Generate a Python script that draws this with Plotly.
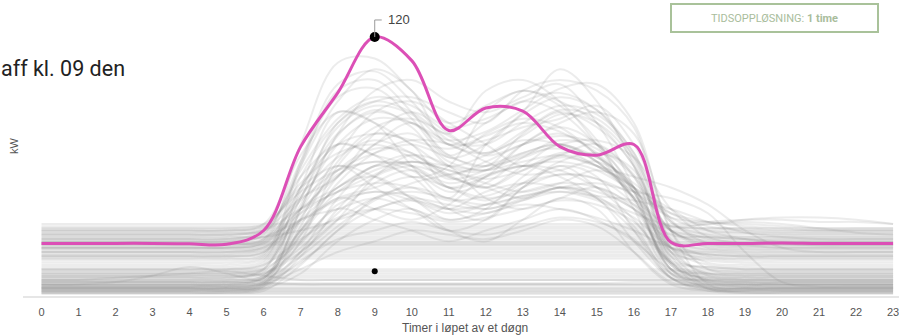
import plotly.graph_objects as go

hours = list(range(24))
tick_labels = [str(h) for h in hours]

# highlighted day (kW per hour)
highlight_kw = [24, 24, 24, 24, 23.8, 23.6, 30, 69, 94, 120, 109, 76.5,
                87, 85.5, 69, 65, 70, 24.5, 24, 24, 24.2, 24, 24, 24]
peak_hour = 9
peak_kw = 120
second_marker_kw = 11

# other days (kW per hour), drawn faint in the background
flat_days = [
    [0.5, 0.5, 0.5, 0.5, 0.5, 0.5, 0.5, 0.5, 0.5, 0.5, 0.5, 0.5, 0.5, 0.5, 0.5, 0.5, 0.5, 0.5, 0.5, 0.5, 0.5, 0.5, 0.5, 0.5],
    [1, 1, 1, 1, 1, 1, 1, 1, 1, 1, 1, 1, 1, 1, 1, 1, 1, 1, 1, 1, 1, 1, 1, 1],
    [1.5, 1.5, 1.5, 1.5, 1.5, 1.5, 1.5, 1.5, 1.5, 1.5, 1.5, 1.5, 1.5, 1.5, 1.5, 1.5, 1.5, 1.5, 1.5, 1.5, 1.5, 1.5, 1.5, 1.5],
    [2, 2, 2, 2, 2, 2, 2, 2, 2, 2, 2, 2, 2, 2, 2, 2, 2, 2, 2, 2, 2, 2, 2, 2],
    [2.5, 2.5, 2.5, 2.5, 2.5, 2.5, 2.5, 2.5, 2.5, 2.5, 2.5, 2.5, 2.5, 2.5, 2.5, 2.5, 2.5, 2.5, 2.5, 2.5, 2.5, 2.5, 2.5, 2.5],
    [3, 3, 3, 3, 3, 3, 3, 3, 3, 3, 3, 3, 3, 3, 3, 3, 3, 3, 3, 3, 3, 3, 3, 3],
    [3.5, 3.5, 3.5, 3.5, 3.5, 3.5, 3.5, 3.5, 3.5, 3.5, 3.5, 3.5, 3.5, 3.5, 3.5, 3.5, 3.5, 3.5, 3.5, 3.5, 3.5, 3.5, 3.5, 3.5],
    [4.5, 4.5, 4.5, 4.5, 4.5, 4.5, 4.5, 4.5, 4.5, 4.5, 4.5, 4.5, 4.5, 4.5, 4.5, 4.5, 4.5, 4.5, 4.5, 4.5, 4.5, 4.5, 4.5, 4.5],
    [5, 5, 5, 5, 5, 5, 5, 5, 5, 5, 5, 5, 5, 5, 5, 5, 5, 5, 5, 5, 5, 5, 5, 5],
    [6, 6, 6, 6, 6, 6, 5.5, 5.5, 5.5, 5.5, 5.5, 5.5, 5.5, 5.5, 5.5, 5.5, 6, 6, 6, 6, 6, 6, 6, 6],
    [7, 7, 7, 7, 7, 7, 7, 7, 7, 7, 7, 7, 7, 7, 7, 7, 7, 7, 7, 7, 7, 7, 7, 7],
    [8, 8, 8, 8, 8, 8, 8, 8, 8, 8, 8, 8, 8, 8, 8, 8, 8, 8, 8, 8, 8, 8, 8, 8],
    [9, 9, 9, 9, 9, 9, 9, 9, 9, 9, 9, 9, 9, 9, 9, 9, 9, 9, 9, 9, 9, 9, 9, 9],
    [10, 10, 10, 10, 10, 10, 10, 10, 10, 10, 10, 10, 10, 10, 10, 10, 10, 10, 10, 10, 10, 10, 10, 10],
    [11, 11, 11, 11, 11, 11, 11, 11, 11, 11, 11, 11, 11, 11, 11, 11, 11, 11, 11, 11, 11, 11, 11, 11],
    [12, 12, 12, 12, 12, 12, 12, 12, 12, 12, 12, 12, 12, 12, 12, 12, 12, 12, 12, 12, 12, 12, 12, 12],
    [5, 5, 6, 9, 13, 10, 6, 5, 5, 5, 5, 5, 5, 5, 5, 5, 5, 5, 5, 5, 5, 5, 5, 5],
    [7, 7, 8, 9, 10, 11, 9, 7, 7, 7, 7, 7, 7, 7, 7, 7, 7, 7, 7, 7, 7, 7, 7, 7],
    [17, 17, 17, 17, 17, 17, 17, 17, 17, 17, 17, 17, 17, 17, 17, 17, 17, 17, 17, 17, 17, 17, 17, 17],
    [18, 18, 18, 18, 18, 18, 18, 18, 18, 18, 18, 18, 18, 18, 18, 18, 18, 18, 18, 18, 18, 18, 18, 18],
    [19, 19, 19, 19, 19, 19, 19, 19, 19, 19, 19, 19, 19, 19, 19, 19, 19, 19, 19, 19, 19, 19, 19, 19],
    [20, 20, 20, 20, 20, 20, 20, 20, 20, 20, 20, 20, 20, 20, 20, 20, 20, 20, 20, 20, 20, 20, 20, 20],
    [21, 21, 21, 21, 21, 21, 21, 21, 21, 21, 21, 21, 21, 21, 21, 21, 21, 21, 21, 21, 21, 21, 21, 21],
    [22, 22, 22, 22, 22, 22, 22, 22, 22, 22, 22, 22, 22, 22, 22, 22, 22, 22, 22, 22, 22, 22, 22, 22],
    [23, 23, 23, 23, 23, 23, 23, 23, 23, 23, 23, 23, 23, 23, 23, 23, 23, 23, 23, 23, 23, 23, 23, 23],
    [23.5, 23.5, 23.5, 23.5, 23.5, 23.5, 23.5, 23.5, 23.5, 23.5, 23.5, 23.5, 23.5, 23.5, 23.5, 23.5, 23.5, 23.5, 23.5, 23.5, 23.5, 23.5, 23.5, 23.5],
    [24, 24, 24, 24, 24, 24, 24, 24, 24, 24, 24, 24, 24, 24, 24, 24, 24, 24, 24, 24, 24, 24, 24, 24],
    [24.5, 24.5, 24.5, 24.5, 24.5, 24.5, 24.5, 24.5, 24.5, 24.5, 24.5, 24.5, 24.5, 24.5, 24.5, 24.5, 24.5, 24.5, 24.5, 24.5, 24.5, 24.5, 24.5, 24.5],
    [25, 25, 25, 25, 25, 25, 25, 25, 25, 25, 25, 25, 25, 25, 25, 25, 25, 25, 25, 25, 25, 25, 25, 25],
    [26, 26, 26, 26, 26, 26, 26, 26, 26, 26, 26, 26, 26, 26, 26, 26, 26, 26, 26, 26, 26, 26, 26, 26],
    [27, 27, 27, 27, 27, 27, 27, 27, 27, 27, 27, 27, 27, 27, 27, 27, 27, 27, 27, 27, 27, 27, 27, 27],
    [28, 28, 28, 28, 28, 28, 28, 28, 28, 28, 28, 28, 28, 28, 28, 28, 28, 28, 28, 28, 28, 28, 28, 28],
    [29, 29, 29, 29, 29, 29, 29, 29, 29, 29, 29, 29, 29, 29, 29, 29, 29, 29, 29, 29, 29, 29, 29, 29],
    [30, 30, 30, 30, 30, 30, 30, 30, 30, 30, 30, 30, 30, 30, 30, 30, 30, 30, 30, 30, 30, 30, 30, 30],
    [31, 31, 31, 31, 31, 31, 31, 31, 31, 31, 31, 31, 31, 31, 31, 31, 31, 31, 31, 31, 31, 31, 31, 31],
    [32, 32, 32, 32, 32, 32, 32, 32, 32, 32, 32, 32, 32, 32, 32, 32, 32, 32, 33, 35, 36, 36, 35, 33],
    [33, 33, 33, 33, 33, 33, 33, 33, 33, 33, 33, 33, 33, 33, 33, 33, 33, 33, 34, 35, 35, 34, 34, 33],
]

work_days = [
    [3, 3, 3, 3, 3, 3, 5, 40, 75, 95, 100, 90, 85, 92, 98, 80, 50, 10, 4, 3, 3, 3, 3, 3],
    [22, 22, 22, 22, 22, 22, 25, 60, 90, 105, 95, 70, 80, 90, 85, 70, 55, 30, 24, 23, 23, 23, 23, 23],
    [5, 5, 5, 5, 5, 5, 8, 30, 55, 70, 80, 65, 60, 75, 85, 78, 60, 20, 6, 5, 5, 5, 5, 5],
    [26, 26, 26, 26, 26, 26, 30, 55, 70, 65, 60, 50, 55, 60, 58, 50, 40, 28, 27, 26, 26, 26, 26, 26],
    [2, 2, 2, 2, 2, 2, 4, 20, 45, 60, 55, 40, 35, 50, 60, 55, 30, 8, 3, 2, 2, 2, 2, 2],
    [18, 18, 18, 18, 18, 18, 20, 45, 80, 90, 85, 75, 95, 100, 90, 70, 45, 22, 19, 18, 18, 18, 18, 18],
    [8, 8, 8, 8, 8, 8, 12, 50, 85, 80, 60, 45, 70, 85, 105, 90, 60, 15, 9, 8, 8, 8, 8, 8],
    [30, 30, 30, 30, 30, 30, 32, 50, 60, 55, 45, 40, 48, 52, 50, 45, 38, 32, 31, 31, 30, 30, 30, 30],
    [4, 4, 4, 4, 4, 4, 6, 15, 30, 45, 50, 45, 40, 45, 50, 45, 25, 8, 5, 4, 4, 4, 4, 4],
    [24, 24, 24, 24, 24, 24, 26, 70, 108, 110, 95, 80, 88, 95, 90, 80, 60, 30, 25, 24, 24, 24, 24, 24],
    [10, 10, 10, 10, 10, 10, 12, 25, 40, 35, 30, 25, 30, 35, 40, 35, 25, 12, 10, 10, 10, 10, 10, 10],
    [6, 6, 6, 6, 6, 6, 8, 35, 65, 85, 90, 80, 70, 60, 65, 70, 55, 15, 7, 6, 6, 6, 6, 6],
    [20, 20, 20, 20, 20, 20, 22, 40, 50, 60, 65, 55, 50, 45, 50, 48, 40, 25, 21, 20, 20, 20, 20, 20],
    [3, 3, 3, 3, 3, 3, 6, 25, 60, 75, 70, 50, 55, 70, 80, 85, 75, 30, 5, 3, 3, 3, 3, 3],
    [28, 28, 28, 28, 28, 28, 30, 45, 55, 75, 85, 75, 65, 70, 75, 65, 45, 32, 33, 34, 33, 31, 29, 28],
    [7, 7, 7, 7, 7, 7, 9, 30, 50, 55, 45, 35, 40, 55, 65, 60, 45, 12, 8, 7, 7, 7, 7, 7],
    [16, 16, 16, 16, 16, 16, 18, 60, 95, 100, 85, 65, 75, 82, 78, 65, 50, 22, 17, 16, 16, 16, 16, 16],
    [2, 2, 2, 2, 2, 2, 3, 10, 25, 35, 40, 30, 25, 35, 45, 40, 20, 5, 2, 2, 2, 2, 2, 2],
    [12, 12, 12, 12, 12, 12, 14, 40, 60, 50, 40, 30, 35, 50, 60, 50, 35, 15, 13, 12, 12, 12, 12, 12],
    [25, 25, 25, 25, 25, 25, 27, 35, 45, 50, 55, 50, 45, 48, 52, 50, 42, 30, 27, 26, 25, 25, 25, 25],
    [5, 5, 5, 5, 5, 5, 7, 45, 70, 65, 55, 60, 85, 95, 88, 72, 40, 10, 6, 5, 5, 5, 5, 5],
    [22, 22, 22, 22, 22, 22, 24, 50, 75, 85, 80, 70, 72, 78, 82, 88, 70, 35, 24, 23, 22, 22, 22, 22],
    [9, 9, 9, 9, 9, 9, 10, 20, 35, 55, 65, 60, 45, 40, 45, 50, 40, 15, 10, 9, 9, 9, 9, 9],
    [30, 30, 30, 30, 30, 30, 33, 65, 85, 80, 70, 60, 65, 72, 70, 62, 48, 36, 34, 32, 31, 30, 30, 30],
    [4, 4, 4, 4, 4, 4, 5, 12, 20, 25, 30, 28, 26, 30, 35, 32, 20, 6, 4, 4, 4, 4, 4, 4],
    [14, 14, 14, 14, 14, 14, 16, 55, 80, 90, 92, 85, 80, 95, 100, 95, 78, 25, 15, 14, 14, 14, 14, 14],
    [1, 1, 1, 1, 1, 1, 3, 18, 40, 55, 60, 55, 50, 60, 70, 62, 45, 12, 3, 1, 1, 1, 1, 1],
    [23, 23, 23, 23, 23, 23, 25, 40, 55, 70, 75, 62, 58, 65, 68, 60, 50, 40, 30, 26, 24, 23, 23, 23],
    [6, 6, 6, 6, 6, 6, 8, 28, 45, 40, 35, 42, 55, 60, 55, 45, 30, 10, 7, 6, 6, 6, 6, 6],
    [19, 19, 19, 19, 19, 19, 21, 35, 40, 45, 40, 35, 38, 42, 40, 36, 30, 22, 20, 19, 19, 19, 19, 19],
    [20, 20, 20, 20, 20, 20, 22, 35, 50, 60, 62, 60, 58, 62, 65, 60, 55, 50, 42, 30, 22, 20, 20, 20],
    [4, 4, 4, 4, 4, 4, 5, 20, 35, 45, 48, 45, 42, 46, 50, 52, 48, 45, 38, 20, 6, 4, 4, 4],
    [26, 26, 26, 26, 26, 26, 27, 30, 35, 40, 45, 42, 40, 44, 48, 46, 44, 40, 34, 29, 27, 26, 26, 26],
    [15, 15, 15, 15, 15, 15, 17, 50, 70, 75, 72, 68, 74, 80, 76, 66, 48, 20, 16, 15, 15, 15, 15, 15],
    [3, 3, 3, 3, 3, 3, 5, 28, 52, 66, 72, 70, 62, 56, 58, 62, 50, 18, 4, 3, 3, 3, 3, 3],
    [27, 27, 27, 27, 27, 27, 29, 58, 82, 92, 88, 78, 82, 90, 94, 86, 64, 34, 28, 27, 27, 27, 27, 27],
    [8, 8, 8, 8, 8, 8, 10, 22, 38, 52, 58, 50, 44, 52, 62, 66, 58, 22, 9, 8, 8, 8, 8, 8],
    [21, 21, 21, 21, 21, 21, 23, 46, 64, 72, 66, 56, 62, 70, 74, 70, 56, 30, 22, 21, 21, 21, 21, 21],
    [2, 2, 2, 2, 2, 2, 4, 32, 62, 78, 82, 74, 66, 74, 84, 80, 62, 16, 3, 2, 2, 2, 2, 2],
    [11, 11, 11, 11, 11, 11, 13, 38, 56, 62, 58, 48, 52, 64, 72, 68, 50, 18, 12, 11, 11, 11, 11, 11],
    [29, 29, 29, 29, 29, 29, 31, 52, 66, 70, 64, 54, 58, 66, 70, 64, 52, 38, 32, 30, 29, 29, 29, 29],
    [5, 5, 5, 5, 5, 5, 7, 18, 32, 44, 52, 56, 60, 66, 70, 62, 44, 12, 6, 5, 5, 5, 5, 5],
    [17, 17, 17, 17, 17, 17, 19, 62, 98, 104, 90, 72, 70, 80, 88, 84, 66, 26, 18, 17, 17, 17, 17, 17],
    [6, 6, 6, 6, 6, 6, 8, 24, 42, 48, 44, 38, 42, 50, 56, 54, 42, 14, 7, 6, 6, 6, 6, 6],
    [24, 24, 24, 24, 24, 24, 26, 44, 58, 66, 70, 64, 60, 64, 70, 72, 64, 40, 27, 24, 24, 24, 24, 24],
    [1, 1, 1, 1, 1, 1, 2, 14, 30, 40, 44, 40, 38, 44, 50, 46, 32, 8, 2, 1, 1, 1, 1, 1],
    [13, 13, 13, 13, 13, 13, 15, 48, 78, 88, 84, 70, 66, 76, 86, 82, 64, 22, 14, 13, 13, 13, 13, 13],
    [31, 31, 31, 31, 31, 31, 33, 48, 58, 62, 60, 52, 56, 60, 62, 58, 48, 38, 34, 33, 32, 31, 31, 31],
    [7, 7, 7, 7, 7, 7, 9, 36, 58, 68, 66, 56, 50, 58, 66, 64, 48, 14, 8, 7, 7, 7, 7, 7],
    [22, 22, 22, 22, 22, 22, 24, 38, 48, 52, 50, 44, 46, 52, 56, 54, 46, 30, 23, 22, 22, 22, 22, 22],
    [3, 3, 3, 3, 3, 3, 4, 16, 26, 30, 34, 30, 28, 32, 36, 34, 26, 8, 3, 3, 3, 3, 3, 3],
    [10, 10, 10, 10, 10, 10, 12, 42, 70, 82, 80, 72, 76, 86, 96, 98, 80, 30, 12, 10, 10, 10, 10, 10],
    [25, 25, 25, 25, 25, 25, 28, 62, 92, 96, 82, 64, 70, 84, 92, 86, 66, 34, 26, 25, 25, 25, 25, 25],
    [9, 9, 9, 9, 9, 9, 11, 30, 48, 58, 62, 58, 52, 48, 52, 58, 50, 20, 10, 9, 9, 9, 9, 9],
    [18, 18, 18, 18, 18, 18, 20, 34, 44, 48, 46, 40, 42, 46, 48, 44, 36, 22, 19, 18, 18, 18, 18, 18],
    [4, 4, 4, 4, 4, 4, 6, 40, 74, 86, 78, 60, 58, 70, 78, 70, 48, 12, 5, 4, 4, 4, 4, 4],
    [28, 28, 28, 28, 28, 28, 30, 40, 48, 56, 62, 58, 54, 58, 64, 60, 50, 36, 30, 29, 28, 28, 28, 28],
    [12, 12, 12, 12, 12, 12, 14, 26, 36, 40, 38, 34, 36, 40, 44, 42, 34, 16, 13, 12, 12, 12, 12, 12],
]

fig = go.Figure()

for day in flat_days + work_days:
    fig.add_trace(go.Scatter(
        x=hours, y=day, mode="lines",
        line=dict(color="rgba(128,128,128,0.15)", width=2, shape="spline", smoothing=1),
        hoverinfo="skip"))

fig.add_trace(go.Scatter(
    x=hours, y=highlight_kw, mode="lines",
    line=dict(color="#dc4fb6", width=3, shape="spline", smoothing=1),
    hoverinfo="skip"))

fig.add_trace(go.Scatter(
    x=[peak_hour], y=[peak_kw], mode="markers",
    marker=dict(color="black", size=10), hoverinfo="skip"))
fig.add_trace(go.Scatter(
    x=[peak_hour], y=[second_marker_kw], mode="markers",
    marker=dict(color="black", size=6), hoverinfo="skip"))

# leader line for the peak label (pixel offsets from the data point)
fig.add_shape(type="line", xref="x", yref="y", xsizemode="pixel", ysizemode="pixel",
              xanchor=peak_hour, yanchor=peak_kw, x0=0, x1=0, y0=0, y1=17,
              line=dict(color="#9a9a9a", width=1))
fig.add_shape(type="line", xref="x", yref="y", xsizemode="pixel", ysizemode="pixel",
              xanchor=peak_hour, yanchor=peak_kw, x0=0, x1=7, y0=17, y1=17,
              line=dict(color="#9a9a9a", width=1))
fig.add_annotation(x=peak_hour, y=peak_kw, xref="x", yref="y", text=str(peak_kw),
                   showarrow=False, xanchor="left", yanchor="middle", xshift=11, yshift=17,
                   font=dict(family="Liberation Sans, Arial", size=13, color="#444"))

# title fragment (the visible part of the original, clipped at the left edge)
fig.add_annotation(x=-0.0275, y=0.77, xref="paper", yref="paper",
                   text="aff kl. 09 den", showarrow=False,
                   xanchor="left", yanchor="middle",
                   font=dict(family="Roboto", size=21.5, color="#222"))

# time resolution box
fig.add_annotation(x=0.858, y=0.939, xref="paper", yref="paper",
                   text="TIDSOPPLØSNING: <b>1 time</b>", showarrow=False,
                   xanchor="center", yanchor="middle", width=203, height=24,
                   bordercolor="#a9c29a", borderwidth=2, bgcolor="white",
                   font=dict(family="Roboto", size=11, color="#a9bd9c"))

# axis titles
fig.add_annotation(x=-0.0103, y=0.51, xref="paper", yref="paper", text="kW",
                   textangle=-90, showarrow=False, xanchor="center", yanchor="middle",
                   font=dict(family="Liberation Sans, Arial", size=11, color="#555"))
fig.add_annotation(x=0.5046, y=-0.108, xref="paper", yref="paper",
                   text="Timer i løpet av et døgn", showarrow=False,
                   xanchor="center", yanchor="middle",
                   font=dict(family="Liberation Sans, Arial", size=12, color="#555"))

fig.update_xaxes(range=[-0.5, 23.16], tickvals=hours, ticktext=tick_labels,
                 showgrid=False, zeroline=False, showline=True, linecolor="#e6e6e6", linewidth=2,
                 ticks="outside", ticklen=5, tickcolor="rgba(0,0,0,0)",
                 ticklabeloverflow="allow",
                 tickfont=dict(family="Liberation Sans, Arial", size=11, color="#555"))
fig.update_yaxes(range=[-0.47, 137.2], showgrid=False, zeroline=False,
                 showticklabels=False, showline=False)

fig.update_layout(width=899, height=336, margin=dict(l=23, r=0, t=0, b=40),
                  paper_bgcolor="white", plot_bgcolor="white", showlegend=False)

fig.write_html("out.html", config={"displayModeBar": False},
               post_script="document.body.style.margin='0';")
